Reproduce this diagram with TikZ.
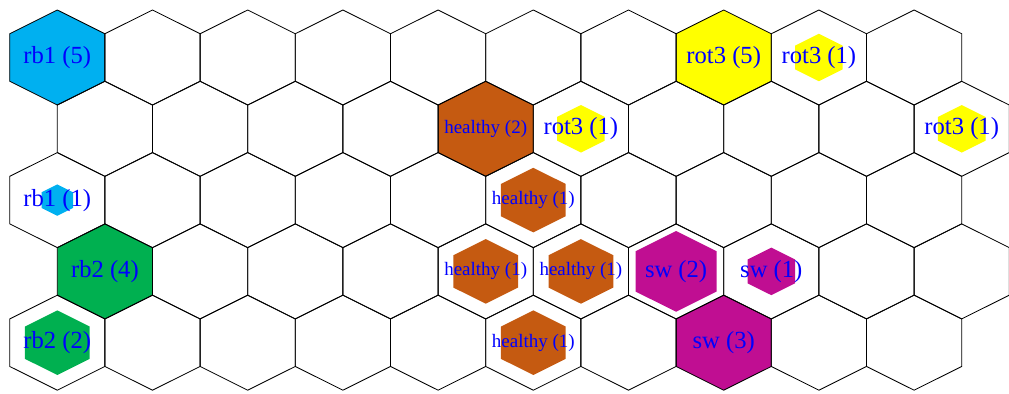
\documentclass[tikz,border=0pt]{standalone}
\usepackage{fontspec}
\setmainfont{Liberation Serif}
\definecolor{somblue}{RGB}{0,176,240}
\definecolor{somyellow}{RGB}{255,255,0}
\definecolor{sombrown}{RGB}{197,90,17}
\definecolor{somgreen}{RGB}{0,176,80}
\definecolor{sommagenta}{RGB}{192,14,146}
\definecolor{somtext}{RGB}{0,0,255}
\tikzset{
  cell/.style={draw=black, line width=0.6pt, line join=miter},
  lbl/.style={text=somtext, inner sep=0pt, font=\fontsize{17.5}{18}\selectfont},
  hlbl/.style={lbl, font=\fontsize{13.5}{14}\selectfont},
}
\newcommand{\hexcell}[3]{%
  \begin{scope}[shift={(#1)}, scale=#2]
    \path[#3] (0,47.5) -- (47.6,23.75) -- (47.6,-23.75) -- (0,-47.5) -- (-47.6,-23.75) -- (-47.6,23.75) -- cycle;
  \end{scope}}

\begin{document}
\begin{tikzpicture}[x=0.025cm, y=-0.025cm]
    \useasboundingbox (0,0) rectangle (1009,394);
    \foreach \r in {0,...,4}{
      \foreach \k in {0,...,9}{
        \pgfmathsetmacro{\cx}{57.3+95.2*\k+47.6*mod(\r,2)}
        \pgfmathsetmacro{\cy}{57.5+71.3*\r}
        \coordinate (c-\r-\k) at (\cx,\cy);}}
    \hexcell{c-0-0}{1}{fill=somblue}
    \hexcell{c-0-7}{1}{fill=somyellow}
    \hexcell{c-0-8}{0.5}{fill=somyellow}
    \hexcell{c-1-4}{1}{fill=sombrown}
    \hexcell{c-1-5}{0.5}{fill=somyellow}
    \hexcell{c-1-9}{0.5}{fill=somyellow}
    \hexcell{c-2-0}{0.33}{fill=somblue}
    \hexcell{c-2-5}{0.68}{fill=sombrown}
    \hexcell{c-3-0}{1}{fill=somgreen}
    \hexcell{c-3-4}{0.68}{fill=sombrown}
    \hexcell{c-3-5}{0.68}{fill=sombrown}
    \hexcell{c-3-6}{0.85}{fill=sommagenta}
    \hexcell{c-3-7}{0.5}{fill=sommagenta}
    \hexcell{c-4-0}{0.68}{fill=somgreen}
    \hexcell{c-4-5}{0.68}{fill=sombrown}
    \hexcell{c-4-7}{1}{fill=sommagenta}
    \foreach \r in {0,...,4}{
      \foreach \k in {0,...,9}{\hexcell{c-\r-\k}{1}{cell}}}
    \node[lbl] (rbfive) at (c-0-0) {rb1 (5)};
    \node[lbl] (rotfive) at (c-0-7) {rot3 (5)};
    \node[lbl] (rotonea) at (c-0-8) {rot3 (1)};
    \node[hlbl] (healthytwo) at (c-1-4) {healthy (2)};
    \node[lbl] (rotoneb) at (c-1-5) {rot3 (1)};
    \node[lbl] (rotonec) at (c-1-9) {rot3 (1)};
    \node[lbl] (rbone) at (c-2-0) {rb1 (1)};
    \node[hlbl] (healthya) at (c-2-5) {healthy (1)};
    \node[lbl] (rbfour) at (c-3-0) {rb2 (4)};
    \node[hlbl] (healthyb) at (c-3-4) {healthy (1)};
    \node[hlbl] (healthyc) at (c-3-5) {healthy (1)};
    \node[lbl] (swtwo) at (c-3-6) {sw (2)};
    \node[lbl] (swone) at (c-3-7) {sw (1)};
    \node[lbl] (rbtwo) at (c-4-0) {rb2 (2)};
    \node[hlbl] (healthyd) at (c-4-5) {healthy (1)};
    \node[lbl] (swthree) at (c-4-7) {sw (3)};
  \end{tikzpicture}
\end{document}
